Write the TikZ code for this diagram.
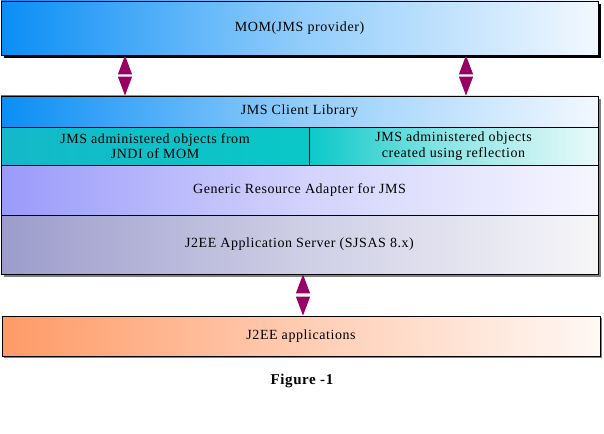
\documentclass[tikz,border=0pt]{standalone}
\usepackage{fontspec}
\setmainfont{Liberation Serif}[LetterSpace=4]
\usetikzlibrary{arrows.meta,shadows}

\definecolor{momblue}{HTML}{0A8EF5}
\definecolor{momlight}{HTML}{F2F8FF}
\definecolor{adminteal}{HTML}{14B8C8}
\definecolor{adminmid}{HTML}{0AC8C8}
\definecolor{adminlight}{HTML}{EAFAFA}
\definecolor{raviolet}{HTML}{9A9AFA}
\definecolor{ralight}{HTML}{F6F6FF}
\definecolor{asgray}{HTML}{9C9CCC}
\definecolor{aslight}{HTML}{F6F6F8}
\definecolor{apporange}{HTML}{FF9A66}
\definecolor{applight}{HTML}{FFF8F4}
\definecolor{linkpurple}{HTML}{990066}

\tikzset{
  layer/.style={draw=black, line width=0.9pt, inner sep=0pt, font=\fontsize{14}{15.5}\selectfont},
  link/.style={white, line width=1pt,
    {Triangle[width=14pt,length=19pt,color=linkpurple]}-{Triangle[width=14pt,length=19pt,color=linkpurple]}}
}

\begin{document}
\begin{tikzpicture}[x=1pt,y=-1pt]
	\useasboundingbox (0,0) rectangle (604,433);
	\fill[white] (0,0) rectangle (604,433);

	% MOM on top
	\node[layer, minimum width=597pt, minimum height=54pt,
		left color=momblue, right color=momlight, middle color=momblue!45!white,
		drop shadow={shadow xshift=3pt, shadow yshift=-3pt, fill=black, opacity=1}]
		(mom) at (299.5,28) {MOM(JMS provider)};

	% stack of the client side
	\fill[gray] (4,99) rectangle (601,277);
	\node[layer, minimum width=597pt, minimum height=31pt,
		left color=momblue, right color=momlight, middle color=momblue!45!white]
		(client) at (299.5,111.5) {JMS Client Library};
	\node[layer, minimum width=308pt, minimum height=38pt, align=center,
		left color=adminteal, right color=adminmid]
		(jndi) at (155,146) {JMS administered objects from\\JNDI of MOM};
	\node[layer, minimum width=289pt, minimum height=38pt, align=center,
		left color=adminmid, right color=adminlight, middle color=adminmid!45!white]
		(reflect) at (453.5,146) {JMS administered objects\\created using reflection};
	\node[layer, minimum width=597pt, minimum height=50pt,
		left color=raviolet, right color=ralight, middle color=raviolet!45!white]
		(ra) at (299.5,190) {Generic Resource Adapter for JMS};
	\node[layer, minimum width=597pt, minimum height=59pt,
		left color=asgray, right color=aslight, middle color=asgray!50!white]
		(appserver) at (299.5,244.5) {J2EE Application Server (SJSAS 8.x)};

	% applications
	\node[layer, minimum width=598pt, minimum height=40pt,
		left color=apporange, right color=applight, middle color=apporange!50!white,
		drop shadow={shadow xshift=2pt, shadow yshift=-2pt, fill=gray, opacity=1}]
		(apps) at (301,336) {J2EE applications};
	\node[font=\bfseries\fontsize{15}{17}\selectfont] (caption) at (302,381) {Figure -1};

	% links
	\draw[link] (mom.south -| 125,0) -- (client.north -| 125,0);
	\draw[link] (mom.south -| 466,0) -- (client.north -| 466,0);
	\draw[link] (appserver.south -| 303,0) -- (apps.north -| 303,0);
\end{tikzpicture}
\end{document}
